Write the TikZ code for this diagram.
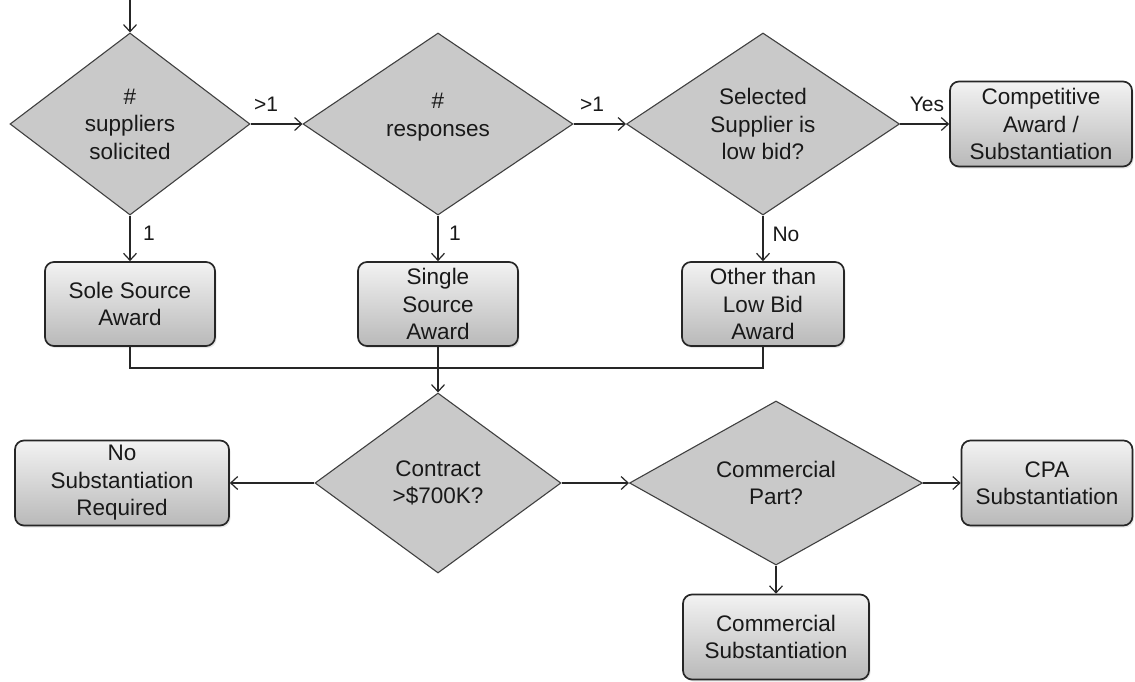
\documentclass[tikz,border=0pt]{standalone}
\usepackage{fontspec}
\setmainfont{Liberation Sans}
\usetikzlibrary{shapes.geometric,arrows.meta,shadows}

\begin{document}
\begin{tikzpicture}[x=1pt,y=-1pt,
  txt/.style={font=\fontsize{22.5}{27.5}\selectfont, text=black!90},
  lbl/.style={font=\fontsize{21}{24}\selectfont, text=black!90, inner sep=0pt},
  decision/.style={txt, shape=diamond, draw=black!75, line width=1.1pt,
    fill=gray!42, inner sep=0pt, align=center},
  outcome/.style={txt, rectangle, rounded corners=9pt, draw=black!85, line width=1.7pt,
    top color=gray!10, bottom color=gray!55, align=center, inner sep=0pt,
    drop shadow={opacity=0.18, shadow xshift=1.5pt, shadow yshift=-2pt}},
  arr/.style={-{Straight Barb[length=7pt,width=13pt,line width=1.2pt]}, line width=1.2pt, draw=black!85},
  link/.style={line width=1.2pt, draw=black!85}
]
\useasboundingbox[fill=white] (0,0) rectangle (1135,681);

% decisions, top row
\node[decision, minimum width=240pt, minimum height=182pt] (d1) at (130,124) {\#\\suppliers\\solicited};
\node[decision, minimum width=270pt, minimum height=182pt] (d2) at (438,124) {};
\node[txt, align=center] (d2text) at (438,117) {\#\\responses};
\node[decision, minimum width=273pt, minimum height=182pt] (d3) at (763,124) {Selected\\Supplier is\\low bid?};

% outcomes, top row
\node[outcome, minimum width=182pt, minimum height=85pt] (comp) at (1041,124) {Competitive\\Award /\\Substantiation};
\node[outcome, minimum width=170pt, minimum height=84pt] (sole) at (130,304) {Sole Source\\Award};
\node[outcome, minimum width=160pt, minimum height=84pt] (single) at (438,304) {Single\\Source\\Award};
\node[outcome, minimum width=162pt, minimum height=84pt] (other) at (763,304) {Other than\\Low Bid\\Award};

% decisions, bottom row
\node[decision, minimum width=246pt, minimum height=180pt] (d4) at (438,483) {Contract\\>\$700K?};
\node[decision, minimum width=293pt, minimum height=146pt] (d5) at (776,483) {Commercial\\Part?};

% outcomes, bottom row
\node[outcome, minimum width=214pt, minimum height=85pt] (nosub) at (122,483) {No\\Substantiation\\Required};
\node[outcome, minimum width=171pt, minimum height=85pt] (cpa) at (1047,483) {CPA\\Substantiation};
\node[outcome, minimum width=186pt, minimum height=85pt] (comsub) at (776,637) {Commercial\\Substantiation};

% connectors
\coordinate (start) at (130,0);
\coordinate (join) at (438,368);
\draw[arr] (start) -- (d1.north);
\draw[arr] (d1.east) -- (d2.west);
\draw[arr] (d2.east) -- (d3.west);
\draw[arr] (d3.east) -- (comp.west);
\draw[arr] (d1.south) -- (sole.north);
\draw[arr] (d2.south) -- (single.north);
\draw[arr] (d3.south) -- (other.north);
\draw[link] (sole.south) |- (join);
\draw[link] (other.south) |- (join);
\draw[arr] (single.south) -- (d4.north);
\draw[arr] (d4.west) -- (nosub.east);
\draw[arr] (d4.east) -- (d5.west);
\draw[arr] (d5.east) -- (cpa.west);
\draw[arr] (d5.south) -- (comsub.north);

% branch labels
\node[lbl] (l1) at (266,104) {>1};
\node[lbl] (l2) at (592,104) {>1};
\node[lbl] (l3) at (927,104) {Yes};
\node[lbl] (l4) at (149,233) {1};
\node[lbl] (l5) at (455,233) {1};
\node[lbl] (l6) at (786,234) {No};
\end{tikzpicture}
\end{document}
